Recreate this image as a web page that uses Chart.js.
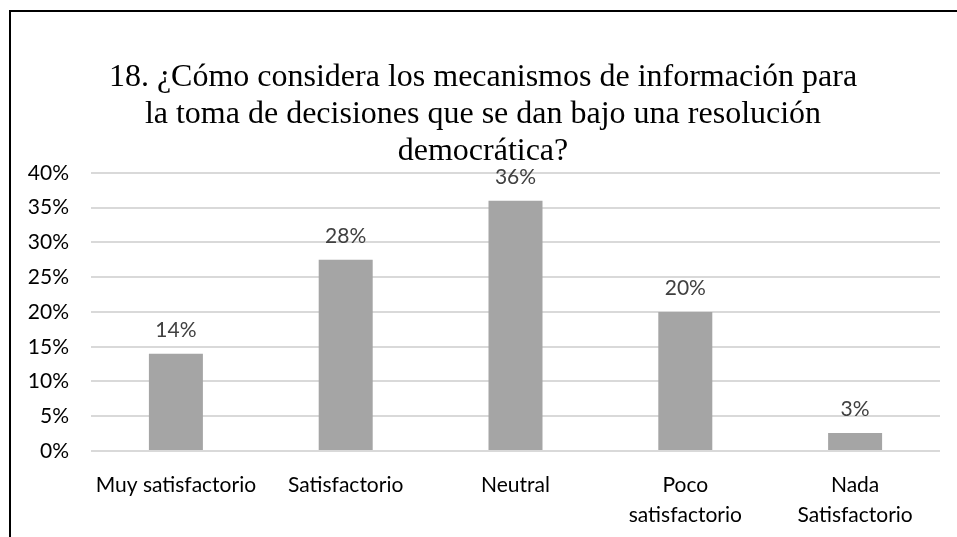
<!DOCTYPE html>
<html>
<head>
<meta charset="utf-8">
<script src="https://cdn.jsdelivr.net/npm/chart.js@4.4.1/dist/chart.umd.min.js"></script>
<style>
html,body{margin:0;padding:0;background:#fff;}
#wrap{position:absolute;left:0;top:0;width:957px;height:537px;}
#frame{position:absolute;left:9px;top:10px;width:1000px;height:600px;border-left:2px solid #000;border-top:2px solid #000;pointer-events:none;}
</style>
</head>
<body>
<div id="wrap"><canvas id="c" width="957" height="537"></canvas></div>
<div id="frame"></div>
<script>
const categories = ["Muy satisfactorio", "Satisfactorio", "Neutral", ["Poco", "satisfactorio"], ["Nada", "Satisfactorio"]];
const values = [14, 27.5, 36, 20, 2.6];
const yTicks = [0, 5, 10, 15, 20, 25, 30, 35, 40];
const titleLines = ["18. ¿Cómo considera los mecanismos de información para", "la toma de decisiones que se dan bajo una resolución", "democrática?"];

const labelPlugin = {
  id: 'barLabels',
  afterDatasetsDraw(chart) {
    const ctx = chart.ctx;
    const meta = chart.getDatasetMeta(0);
    ctx.save();
    ctx.font = '21px Lato';
    ctx.fillStyle = '#404040';
    ctx.textAlign = 'center';
    ctx.textBaseline = 'bottom';
    meta.data.forEach((bar, i) => {
      ctx.fillText(Math.round(values[i]) + '%', bar.x, bar.y - 13);
    });
    ctx.restore();
  }
};

new Chart(document.getElementById('c'), {
  type: 'bar',
  data: {
    labels: categories,
    datasets: [{
      data: values,
      backgroundColor: '#a5a5a5',
      borderWidth: 0,
      categoryPercentage: 1,
      barPercentage: 0.318
    }]
  },
  options: {
    responsive: false,
    animation: false,
    devicePixelRatio: 1,
    layout: { padding: { left: 26, right: 17, top: 59, bottom: 0 } },
    plugins: {
      legend: { display: false },
      tooltip: { enabled: false },
      title: {
        display: true,
        text: titleLines,
        color: '#000',
        font: { family: 'Liberation Serif', size: 32, weight: 'normal', lineHeight: 1.156 },
        padding: { top: 0, bottom: 3 }
      }
    },
    scales: {
      x: {
        afterFit(scale) { scale.height = 86; },
        grid: { display: false, drawTicks: false },
        border: { display: false },
        ticks: {
          color: '#000',
          font: { family: 'Lato', size: 21, lineHeight: 1.45 },
          padding: 19,
          maxRotation: 0,
          autoSkip: false
        }
      },
      y: {
        min: 0,
        max: 40,
        afterFit(scale) { scale.width = 65; },
        afterBuildTicks(scale) { scale.ticks = yTicks.map(v => ({ value: v })); },
        grid: { color: '#d9d9d9', lineWidth: 2, drawTicks: false },
        border: { display: false },
        ticks: {
          color: '#000',
          font: { family: 'Lato', size: 21 },
          padding: 22,
          callback: v => v + '%'
        }
      }
    }
  },
  plugins: [labelPlugin]
});
</script>
</body>
</html>
